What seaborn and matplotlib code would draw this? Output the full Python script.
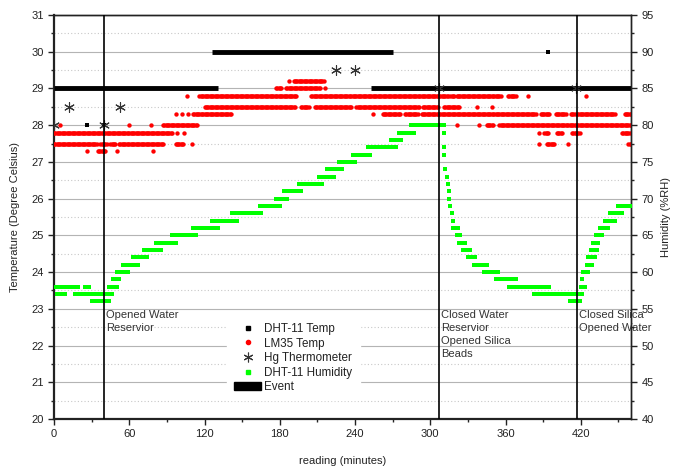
import numpy as np
import pandas as pd
import seaborn as sns
import matplotlib.pyplot as plt
from matplotlib.lines import Line2D
from matplotlib.patches import Patch
from matplotlib.ticker import MultipleLocator

# LM35 temperature readings: level -> runs of minutes [start, end] where dots appear
lm35_levels = [29.2, 29.0, 28.8, 28.5, 28.3, 28.0, 27.8, 27.5, 27.3]
lm35_runs = [
    [(187, 187), (191, 215)],
    [(177, 181), (185, 212), (216, 216)],
    [(106, 106), (116, 193), (205, 314), (316, 319), (321, 356), (362, 368), (378, 378), (424, 424)],
    [(120, 192), (197, 203), (208, 237), (241, 291), (294, 306), (311, 323), (337, 337), (349, 349)],
    [(97, 97), (102, 102), (107, 107), (111, 141), (254, 254), (262, 276), (280, 290), (293, 384),
     (388, 395), (400, 408), (412, 415), (417, 447), (455, 460)],
    [(5, 5), (60, 60), (77, 77), (87, 114), (321, 321), (339, 339), (345, 350), (355, 460)],
    [(0, 94), (98, 98), (104, 104), (387, 387), (391, 394), (401, 405), (413, 419), (453, 459)],
    [(0, 34), (37, 42), (45, 49), (52, 87), (97, 103), (110, 110), (387, 387), (393, 399), (410, 410), (458, 460)],
    [(26, 26), (35, 41), (50, 50), (79, 79)],
]

# DHT-11 humidity readings (%RH): level -> runs of minutes
hum_levels = [58, 57, 56, 59, 60, 61, 62, 63, 64, 65, 66, 67, 68, 69, 70, 71, 72, 73, 74, 75, 76, 77, 78, 79, 80]
hum_runs = [
    [(0, 5), (7, 19), (25, 28), (44, 50), (363, 387), (389, 395), (420, 423)],
    [(2, 9), (17, 33), (36, 46), (383, 421)],
    [(30, 44), (411, 419)],
    [(47, 52), (352, 368), (421, 421)],
    [(50, 59), (343, 354), (422, 426)],
    [(55, 67), (335, 345), (425, 429)],
    [(63, 74), (330, 336), (426, 431)],
    [(72, 85), (326, 332), (428, 433)],
    [(81, 97), (323, 328), (430, 434)],
    [(94, 113), (321, 324), (432, 437)],
    [(111, 131), (318, 322), (435, 442)],
    [(126, 146), (318, 318), (439, 447)],
    [(142, 165), (317, 317), (443, 453)],
    [(164, 180), (316, 316), (450, 459)],
    [(177, 186), (315, 315)],
    [(183, 197), (315, 315)],
    [(195, 214), (314, 314)],
    [(211, 223), (313, 313)],
    [(218, 230), (312, 312)],
    [(227, 240)],
    [(238, 252), (311, 311)],
    [(250, 273), (311, 311)],
    [(269, 277)],
    [(275, 287), (311, 311)],
    [(285, 311)],
]

dht_temp_x = [26, 40, 394]
dht_temp_y = [28, 28, 30]

hg_x = [0, 12, 40, 53, 225, 240, 307, 416]
hg_y = [28, 28.5, 28, 28.5, 29.5, 29.5, 29, 29]

event_y = [29, 30, 29]
event_start = [0, 126, 253]
event_end = [131, 270, 460]
event_x = [40, 307, 417]
event_text = ["Opened Water\nReservior", "Closed Water\nReservior\nOpened Silica\nBeads",
              "Closed Silica\nOpened Water"]


def expand(levels, runs, name):
    rows = []
    for lev, rr in zip(levels, runs):
        for s, e in rr:
            for m in range(s, e + 1):
                rows.append((m, lev))
    return pd.DataFrame(rows, columns=["minute", name])


lm35 = expand(lm35_levels, lm35_runs, "temp")
hum = expand(hum_levels, hum_runs, "hum")

sns.set_style("ticks")
plt.rcParams["font.family"] = ["Liberation Sans", "DejaVu Sans"]
txt = "#222222"

fig = plt.figure(figsize=(6.8, 4.75), dpi=100)
ax = fig.add_axes([0.0794, 0.1179, 0.8485, 0.8505])
ax2 = ax.twinx()

ax.set_xlim(0, 460)
ax.set_ylim(20, 31)
ax2.set_ylim(40, 95)

ax.yaxis.set_major_locator(MultipleLocator(1))
ax.yaxis.set_minor_locator(MultipleLocator(0.5))
ax.xaxis.set_major_locator(MultipleLocator(60))
ax.xaxis.set_minor_locator(MultipleLocator(30))
ax2.yaxis.set_major_locator(MultipleLocator(5))
ax2.yaxis.set_minor_locator(MultipleLocator(2.5))

ax.grid(which="major", axis="y", color="#b4b4b4", lw=0.8)
ax.grid(which="minor", axis="y", color="#c8c8c8", lw=0.8, ls=(0, (1, 2)))
ax.set_axisbelow(True)

for a in (ax, ax2):
    a.tick_params(which="major", direction="out", length=4, width=1, labelsize=8, colors="#222222")
    a.tick_params(which="minor", direction="out", length=2.5, width=1)
    for sp in a.spines.values():
        sp.set_color("#222222")
        sp.set_linewidth(1.0)
ax.spines["left"].set_linewidth(1.6)
ax.spines["bottom"].set_linewidth(1.6)
ax2.spines["left"].set_visible(False)
ax2.spines["bottom"].set_visible(False)

# events
ax.hlines(event_y, event_start, event_end, color="black", lw=3.5, zorder=3)

sns.scatterplot(data=lm35, x="minute", y="temp", ax=ax, color="#ff0000", s=10,
                linewidth=0, marker="o", zorder=4, legend=False)
sns.scatterplot(x=dht_temp_x, y=dht_temp_y, ax=ax, color="black", s=10, marker="s",
                linewidth=0, zorder=5, legend=False)
sns.scatterplot(x=hg_x, y=hg_y, ax=ax, color="#333333", s=50, marker=(6, 2, 0),
                linewidth=0.8, zorder=6, legend=False)

sns.scatterplot(data=hum, x="minute", y="hum", ax=ax2, color="#00ff00", s=11,
                linewidth=0, marker="s", zorder=3, legend=False)
for xv in event_x:
    ax2.axvline(xv, color="black", lw=1.2, zorder=4)

for xv, t in zip(event_x, event_text):
    ax.text(xv + 1.5, 22.97, t, va="top", ha="left", fontsize=8, color="#333333",
            linespacing=1.38)

ax.set_xlabel("reading (minutes)", fontsize=8, color=txt, labelpad=12)
ax.set_ylabel("Temperature (Degree Celsius)", fontsize=8, color=txt, labelpad=8)
ax2.set_ylabel("Humidity (%RH)", fontsize=8, color=txt, labelpad=5)
ax2.set_xlim(0, 460)

handles = [
    Line2D([], [], ls="none", marker="s", color="black", markersize=3),
    Line2D([], [], ls="none", marker="o", color="#ff0000", markersize=3),
    Line2D([], [], ls="none", marker=(6, 2, 0), color="#333333", markersize=7, markeredgewidth=0.8),
    Line2D([], [], ls="none", marker="s", color="#00ff00", markersize=3),
    Patch(facecolor="black", edgecolor="black"),
]
labels = ["DHT-11 Temp", "LM35 Temp", "Hg Thermometer", "DHT-11 Humidity", "Event"]
leg = ax2.legend(handles, labels, loc="upper left", bbox_to_anchor=(0.30, 0.255),
                 fontsize=8.4, frameon=True, handlelength=2.3, handleheight=0.7,
                 handletextpad=0.3, labelspacing=0.22, borderpad=0.6, borderaxespad=0)
leg.get_frame().set_facecolor("white")
leg.get_frame().set_edgecolor("white")
leg.get_frame().set_alpha(1)
leg.get_frame().set_boxstyle("square", pad=0)
for t in leg.get_texts():
    t.set_color(txt)

fig.savefig("out.png", dpi=100)
